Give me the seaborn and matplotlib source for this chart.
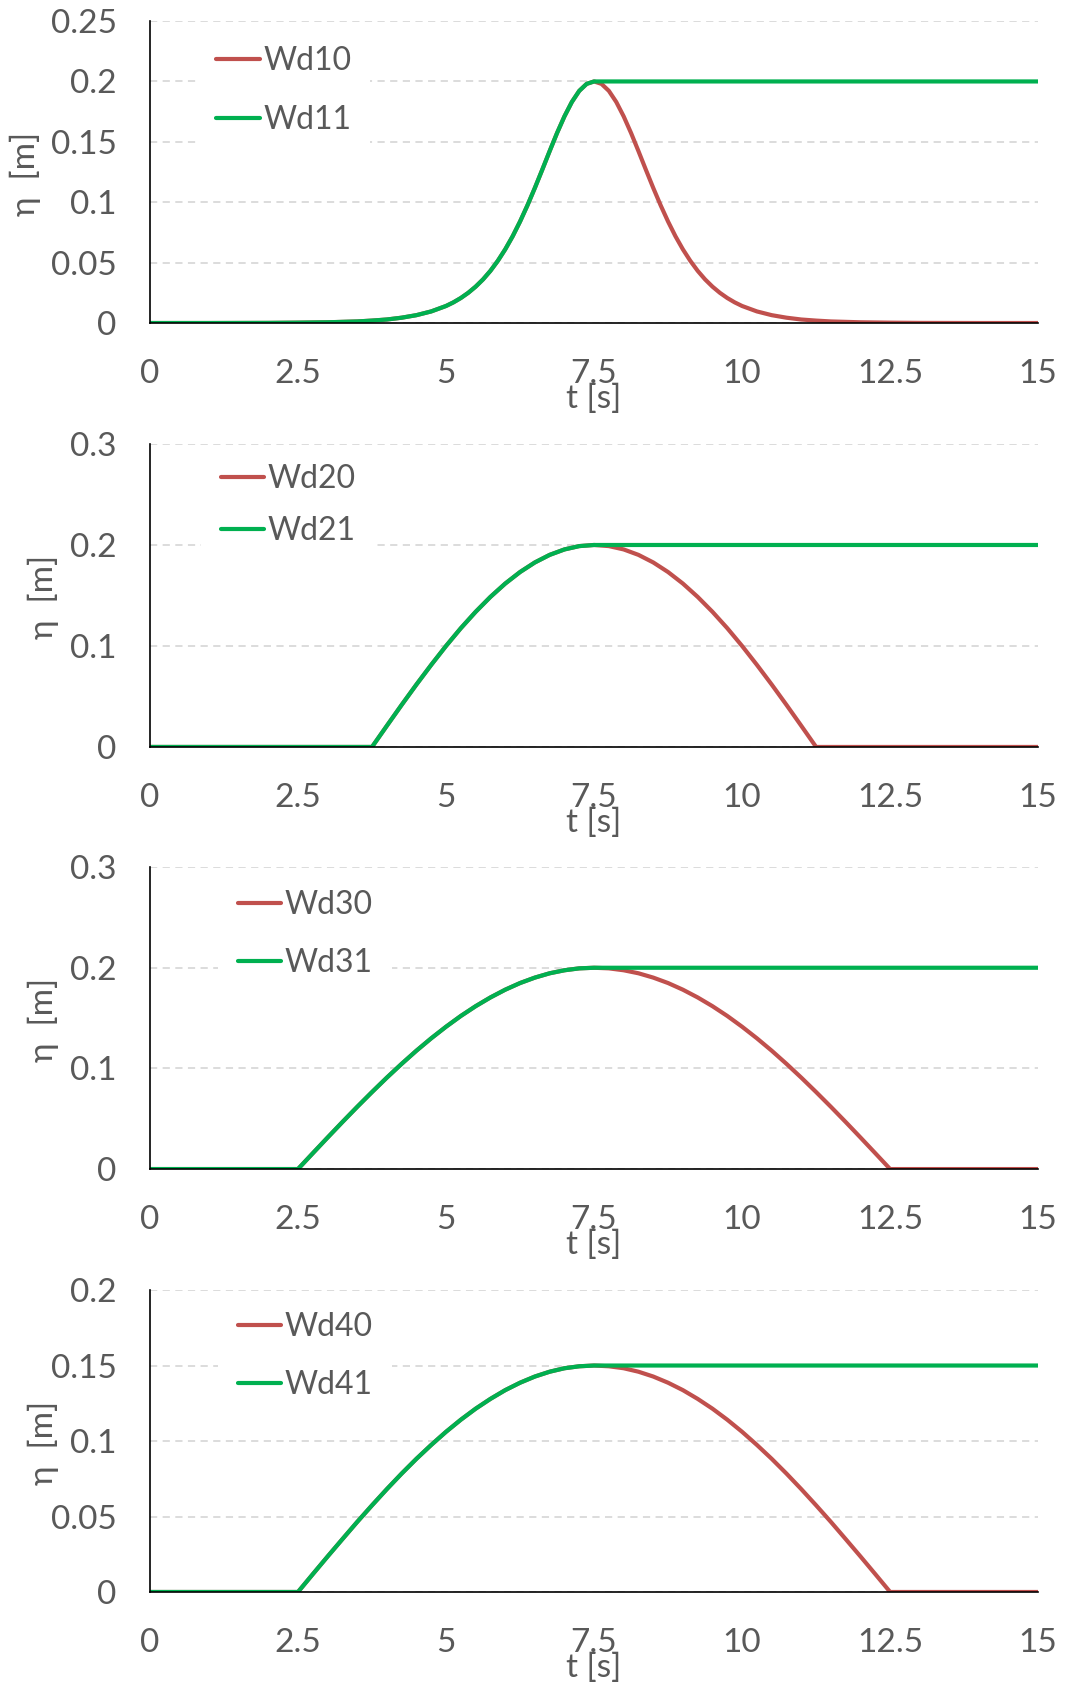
import matplotlib
matplotlib.use('Agg')
import matplotlib.pyplot as plt
import seaborn as sns
import pandas as pd
from matplotlib.ticker import MultipleLocator, FuncFormatter

sns.set_style('white')
plt.rcParams['font.family'] = ['Lato', 'DejaVu Sans']

# --- panel 1 : solitary wave (Wd10 / Wd11)
t1 = [0, 1, 2, 2.5, 3, 3.5, 3.75, 4, 4.25, 4.5, 4.75, 5,
      5.125, 5.25, 5.375, 5.5, 5.625, 5.75, 5.875, 6, 6.125, 6.25, 6.375, 6.5,
      6.625, 6.75, 6.875, 7, 7.125, 7.25, 7.375, 7.5,
      7.625, 7.75, 7.875, 8, 8.125, 8.25, 8.375, 8.5, 8.625, 8.75, 8.875, 9,
      9.125, 9.25, 9.375, 9.5, 9.625, 9.75, 9.875, 10,
      10.25, 10.5, 10.75, 11, 11.25, 11.5, 12, 12.5, 13, 14, 15]
wd10 = [0.0, 0.0, 0.0001, 0.0003, 0.0006, 0.0013, 0.0020, 0.0029, 0.0044, 0.0065, 0.0096, 0.0141,
        0.0171, 0.0207, 0.0250, 0.0301, 0.0361, 0.0432, 0.0515, 0.0610, 0.0718, 0.0840, 0.0974, 0.1118,
        0.1269, 0.1423, 0.1573, 0.1711, 0.1830, 0.1922, 0.1980, 0.2000,
        0.1980, 0.1922, 0.1830, 0.1711, 0.1573, 0.1423, 0.1269, 0.1118, 0.0974, 0.0840, 0.0718, 0.0610,
        0.0515, 0.0432, 0.0361, 0.0301, 0.0250, 0.0207, 0.0171, 0.0141,
        0.0096, 0.0065, 0.0044, 0.0029, 0.0020, 0.0013, 0.0006, 0.0003, 0.0001, 0.0, 0.0]
wd11 = [0.0, 0.0, 0.0001, 0.0003, 0.0006, 0.0013, 0.0020, 0.0029, 0.0044, 0.0065, 0.0096, 0.0141,
        0.0171, 0.0207, 0.0250, 0.0301, 0.0361, 0.0432, 0.0515, 0.0610, 0.0718, 0.0840, 0.0974, 0.1118,
        0.1269, 0.1423, 0.1573, 0.1711, 0.1830, 0.1922, 0.1980, 0.2000,
        0.2, 0.2, 0.2, 0.2, 0.2, 0.2, 0.2, 0.2, 0.2, 0.2, 0.2, 0.2,
        0.2, 0.2, 0.2, 0.2, 0.2, 0.2, 0.2, 0.2,
        0.2, 0.2, 0.2, 0.2, 0.2, 0.2, 0.2, 0.2, 0.2, 0.2, 0.2]

# --- panel 2 : Wd20 / Wd21
t2 = [0, 3.75, 4.0, 4.25, 4.5, 4.75, 5.0, 5.25, 5.5, 5.75, 6.0, 6.25, 6.5, 6.75, 7.0, 7.25, 7.5,
      7.75, 8.0, 8.25, 8.5, 8.75, 9.0, 9.25, 9.5, 9.75, 10.0, 10.25, 10.5, 10.75, 11.0, 11.25, 15]
wd20 = [0.0, 0.0, 0.0209, 0.0416, 0.0618, 0.0813, 0.1000, 0.1176, 0.1338, 0.1486, 0.1618, 0.1732,
        0.1827, 0.1902, 0.1956, 0.1989, 0.2000,
        0.1989, 0.1956, 0.1902, 0.1827, 0.1732, 0.1618, 0.1486, 0.1338, 0.1176, 0.1000, 0.0813,
        0.0618, 0.0416, 0.0209, 0.0, 0.0]
wd21 = [0.0, 0.0, 0.0209, 0.0416, 0.0618, 0.0813, 0.1000, 0.1176, 0.1338, 0.1486, 0.1618, 0.1732,
        0.1827, 0.1902, 0.1956, 0.1989, 0.2000,
        0.2, 0.2, 0.2, 0.2, 0.2, 0.2, 0.2, 0.2, 0.2, 0.2, 0.2,
        0.2, 0.2, 0.2, 0.2, 0.2]

# --- panel 3 : Wd30 / Wd31
t3 = [0, 2.5, 2.75, 3.0, 3.25, 3.5, 3.75, 4.0, 4.25, 4.5, 4.75, 5.0, 5.25, 5.5, 5.75, 6.0, 6.25,
      6.5, 6.75, 7.0, 7.25, 7.5,
      7.75, 8.0, 8.25, 8.5, 8.75, 9.0, 9.25, 9.5, 9.75, 10.0, 10.25, 10.5, 10.75, 11.0, 11.25,
      11.5, 11.75, 12.0, 12.25, 12.5, 15]
wd30 = [0.0, 0.0, 0.0157, 0.0313, 0.0467, 0.0618, 0.0765, 0.0908, 0.1045, 0.1176, 0.1299, 0.1414,
        0.1521, 0.1618, 0.1705, 0.1782, 0.1848, 0.1902, 0.1945, 0.1975, 0.1994, 0.2000,
        0.1994, 0.1975, 0.1945, 0.1902, 0.1848, 0.1782, 0.1705, 0.1618, 0.1521, 0.1414, 0.1299,
        0.1176, 0.1045, 0.0908, 0.0765, 0.0618, 0.0467, 0.0313, 0.0157, 0.0, 0.0]
wd31 = [0.0, 0.0, 0.0157, 0.0313, 0.0467, 0.0618, 0.0765, 0.0908, 0.1045, 0.1176, 0.1299, 0.1414,
        0.1521, 0.1618, 0.1705, 0.1782, 0.1848, 0.1902, 0.1945, 0.1975, 0.1994, 0.2000,
        0.2, 0.2, 0.2, 0.2, 0.2, 0.2, 0.2, 0.2, 0.2, 0.2, 0.2,
        0.2, 0.2, 0.2, 0.2, 0.2, 0.2, 0.2, 0.2, 0.2, 0.2]

# --- panel 4 : Wd40 / Wd41
t4 = [0, 2.5, 2.75, 3.0, 3.25, 3.5, 3.75, 4.0, 4.25, 4.5, 4.75, 5.0, 5.25, 5.5, 5.75, 6.0, 6.25,
      6.5, 6.75, 7.0, 7.25, 7.5,
      7.75, 8.0, 8.25, 8.5, 8.75, 9.0, 9.25, 9.5, 9.75, 10.0, 10.25, 10.5, 10.75, 11.0, 11.25,
      11.5, 11.75, 12.0, 12.25, 12.5, 15]
wd40 = [0.0, 0.0, 0.0118, 0.0235, 0.0350, 0.0464, 0.0574, 0.0681, 0.0784, 0.0882, 0.0974, 0.1061,
        0.1141, 0.1214, 0.1279, 0.1337, 0.1386, 0.1427, 0.1459, 0.1482, 0.1495, 0.1500,
        0.1495, 0.1482, 0.1459, 0.1427, 0.1386, 0.1337, 0.1279, 0.1214, 0.1141, 0.1061, 0.0974,
        0.0882, 0.0784, 0.0681, 0.0574, 0.0464, 0.0350, 0.0235, 0.0118, 0.0, 0.0]
wd41 = [0.0, 0.0, 0.0118, 0.0235, 0.0350, 0.0464, 0.0574, 0.0681, 0.0784, 0.0882, 0.0974, 0.1061,
        0.1141, 0.1214, 0.1279, 0.1337, 0.1386, 0.1427, 0.1459, 0.1482, 0.1495, 0.1500,
        0.15, 0.15, 0.15, 0.15, 0.15, 0.15, 0.15, 0.15, 0.15, 0.15, 0.15,
        0.15, 0.15, 0.15, 0.15, 0.15, 0.15, 0.15, 0.15, 0.15, 0.15]

series = [
    (t1, wd10, wd11, 'Wd10', 'Wd11'),
    (t2, wd20, wd21, 'Wd20', 'Wd21'),
    (t3, wd30, wd31, 'Wd30', 'Wd31'),
    (t4, wd40, wd41, 'Wd40', 'Wd41'),
]
y_max = [0.25, 0.3, 0.3, 0.2]
y_step = [0.05, 0.1, 0.1, 0.05]
x_ticks = [0, 2.5, 5, 7.5, 10, 12.5, 15]

# layout (figure fractions) and legend anchors
axes_pos = [
    [0.1408, 0.8083, 0.834, 0.1792],
    [0.1408, 0.5567, 0.834, 0.1798],
    [0.1408, 0.3062, 0.834, 0.1792],
    [0.1408, 0.0552, 0.834, 0.1792],
]
leg_pad = 0.6
leg_anchor = [(0.053, 0.77), (0.058, 0.798), (0.077, 0.778), (0.077, 0.782)]
leg_space = [0.9, 0.7, 0.87, 0.87]
ylab_x = [-0.1227, -0.1025, -0.1025, -0.1025]

red = '#C0504D'
green = '#00B050'
txt = '#595959'
fs = 24
fs_leg = 23

fig = plt.figure(figsize=(10.65, 16.85), dpi=100)

for i, (t, a, b, la, lb) in enumerate(series):
    ax = fig.add_axes(axes_pos[i])
    df = pd.concat([
        pd.DataFrame({'t': t, 'eta': a, 'wave': la}),
        pd.DataFrame({'t': t, 'eta': b, 'wave': lb}),
    ], ignore_index=True)
    sns.lineplot(data=df, x='t', y='eta', hue='wave', hue_order=[la, lb],
                 palette=[red, green], linewidth=3.0, ax=ax, sort=False,
                 estimator=None)

    ax.set_xlim(0, 15)
    ax.set_ylim(0, y_max[i])
    ax.set_xticks(x_ticks)
    ax.xaxis.set_major_formatter(FuncFormatter(lambda v, p: f'{v:g}'))
    ax.yaxis.set_major_locator(MultipleLocator(y_step[i]))
    ax.yaxis.set_major_formatter(FuncFormatter(lambda v, p: f'{v:g}'))
    ax.tick_params(axis='both', length=0, labelsize=fs, labelcolor=txt)
    ax.tick_params(axis='x', pad=26)
    ax.tick_params(axis='y', pad=24)

    ax.yaxis.grid(True, linestyle=(0, (4, 3)), color='#D9D9D9', linewidth=1.3)
    ax.set_axisbelow(True)
    for s in ['top', 'right']:
        ax.spines[s].set_visible(False)
    ax.spines['left'].set_color('black')
    ax.spines['bottom'].set_color('black')
    ax.spines['left'].set_linewidth(1.2)
    ax.spines['bottom'].set_linewidth(1.2)

    ax.set_xlabel('t [s]', fontsize=fs, color=txt, labelpad=0)
    ax.xaxis.set_label_coords(0.5, -0.2)
    ax.set_ylabel('η  [m]', fontsize=fs, color=txt)
    ax.yaxis.set_label_coords(ylab_x[i], 0.495)

    leg = ax.legend(loc='center left', bbox_to_anchor=leg_anchor[i], fontsize=fs_leg,
                    frameon=True, facecolor='white', edgecolor='none', framealpha=1,
                    handlelength=1.37, handletextpad=0.1, labelspacing=leg_space[i],
                    borderpad=leg_pad, borderaxespad=0)
    for tx in leg.get_texts():
        tx.set_color(txt)
    for ln in leg.get_lines():
        ln.set_linewidth(3.0)

fig.savefig('out.png', dpi=100)
